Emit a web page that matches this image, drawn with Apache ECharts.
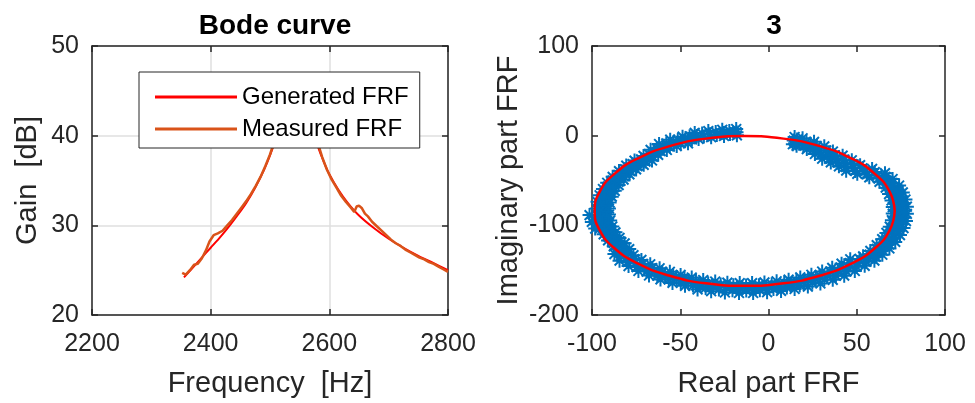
<!DOCTYPE html>
<html><head><meta charset="utf-8">
<script src="https://cdn.jsdelivr.net/npm/echarts@6/dist/echarts.min.js"></script>
<style>html,body{margin:0;padding:0;background:#fff}#c{width:975px;height:403px}</style>
</head><body><div id="c"></div>
<script>
// ---------- Bode curve (left) ----------
const bodeTitle = 'Bode curve';
const bodeXName = 'Frequency  [Hz]';
const bodeYName = 'Gain  [dB]';
const bodeXRange = [2200, 2800, 200];
const bodeYRange = [20, 50, 10];

const genFreq = [2355, 2370, 2385, 2400, 2415, 2430, 2445, 2460, 2475, 2490, 2500, 2510, 2520, 2530, 2545, 2560, 2570, 2580, 2590, 2600, 2615, 2630, 2650, 2675, 2700, 2725, 2750, 2775, 2800];
const genGain = [24.2, 25.3, 26.4, 27.5, 28.6, 29.8, 31.1, 32.5, 34.2, 36.2, 37.8, 39.7, 42.0, 44.0, 45.5, 44.5, 42.5, 39.0, 37.2, 35.7, 34.0, 32.6, 31.1, 29.7, 28.5, 27.5, 26.6, 25.8, 25.0];

const measFreq = [2352, 2358, 2365, 2372, 2378, 2385, 2392, 2398, 2405, 2412, 2420, 2428, 2436, 2444, 2452, 2460, 2468, 2476, 2484, 2492, 2500, 2508, 2516, 2524, 2532, 2540, 2548, 2556, 2564, 2572, 2580, 2588, 2596, 2604, 2612, 2620, 2628, 2636, 2642, 2646, 2650, 2655, 2660, 2665, 2672, 2680, 2688, 2696, 2704, 2712, 2720, 2728, 2736, 2744, 2752, 2760, 2768, 2776, 2784, 2792, 2800];
const measGain = [24.7, 24.5, 25.0, 25.6, 25.7, 26.3, 27.2, 28.2, 28.9, 29.1, 29.4, 30.0, 30.6, 31.3, 32.0, 32.7, 33.5, 34.4, 35.4, 36.6, 37.9, 39.5, 41.3, 43.2, 44.8, 45.8, 46.0, 45.3, 43.8, 41.6, 39.3, 37.6, 36.2, 35.1, 34.2, 33.3, 32.6, 32.0, 31.5, 32.1, 32.2, 31.9, 31.3, 31.0, 30.4, 29.9, 29.4, 28.9, 28.4, 28.0, 27.7, 27.3, 27.0, 26.7, 26.4, 26.2, 25.9, 25.7, 25.4, 25.1, 24.8];

// ---------- Nyquist (right) ----------
const nyqTitle = '3';
const nyqXName = 'Real part FRF';
const nyqYName = 'Imaginary part FRF';
const nyqXRange = [-100, 100, 50];
const nyqYRange = [-200, 100, 100];

const nyqMeasRe = [
 -17.9,-18.1,-18.3, -25.2,-25.7,-26.2, -32.5,-33.3,-34.1, -39.6,-40.7,-41.8,
 -45.6,-47.1,-48.7, -52.0,-53.8,-55.7, -57.6,-59.8,-62.0, -62.5,-64.6,-66.8,
 -66.0,-68.4,-70.8, -70.7,-73.3,-75.9, -75.0,-77.8,-80.6, -78.8,-81.8,-84.7,
 -82.1,-85.2,-88.3, -84.9,-88.1,-91.4, -87.1,-90.5,-93.8, -88.8,-92.2,-95.7,
 -90.0,-93.4,-96.9, -90.4,-93.9,-97.4, -90.4,-93.9,-97.4,-101.4, -89.7,-93.2,-96.7,-100.1,
 -88.5,-91.9,-95.3,-98.2, -86.7,-90.1,-93.4, -84.4,-87.6,-90.9, -81.5,-84.6,-87.7,
 -78.9,-83.1,-87.3, -76.5,-80.5,-84.4, -72.0,-75.6,-79.3, -67.0,-70.4,-73.7,
 -61.7,-64.7,-67.7, -55.9,-58.6,-61.2, -49.8,-52.1,-54.4, -43.5,-45.4,-47.3,
 -37.0,-38.6,-40.2, -30.2,-31.4,-32.5, -23.3,-24.0,-24.7, -16.3,-16.5,-16.7,
 -9.3,-9.0,-8.7, -2.3,-1.5,-0.8, 4.6,5.9,7.1, 11.4,13.1,14.8,
 18.0,20.1,22.3, 24.3,26.8,29.4, 30.4,33.4,36.4, 36.1,39.5,42.9,
 41.4,45.2,48.9, 46.3,50.4,54.5, 53.6,56.8,60.0, 57.7,61.1,64.5,
 61.3,64.9,68.5, 64.4,68.1,71.8, 66.8,70.6,74.5, 68.7,72.6,76.5,
 69.9,73.9,77.9, 70.4,74.4,78.4, 70.4,74.4,78.4, 69.7,73.6,77.6,
 68.3,72.2,76.1, 66.4,70.2,74.0, 62.9,66.6,70.3, 57.1,61.6,66.0,
 50.3,54.5,58.7, 44.0,48.0,51.9, 39.9,43.5,47.2, 35.3,38.7,42.0,
 30.4,33.5,36.5, 26.3,28.9,31.6, 21.7,23.7,25.8, 15.9,17.6,19.3,
 13.8,14.3,14.8
];
const nyqMeasIm = [
 0.4,3.9,7.4, -0.3,3.1,6.6, -1.7,1.7,5.1, -3.6,-0.3,3.0,
 -8.5,-4.8,-1.1, -11.6,-8.1,-4.5, -16.0,-12.7,-9.3, -21.4,-18.6,-15.8,
 -27.7,-25.2,-22.6, -32.5,-30.1,-27.8, -37.6,-35.5,-33.4, -43.2,-41.3,-39.5,
 -49.0,-47.5,-45.9, -55.1,-53.8,-52.5, -61.5,-60.5,-59.5, -68.0,-67.3,-66.5,
 -74.6,-74.2,-73.8, -81.3,-81.2,-81.1, -88.0,-88.2,-88.4,-88.6, -94.7,-95.2,-95.7,-96.2,
 -101.3,-102.1,-102.9,-103.6, -107.8,-108.9,-110.0, -114.1,-115.5,-116.8, -120.1,-121.8,-123.4,
 -126.5,-129.2,-132.0, -133.3,-136.4,-139.4, -138.6,-142.0,-145.4, -143.4,-147.2,-150.9,
 -147.9,-151.9,-155.9, -151.8,-156.1,-160.3, -155.3,-159.7,-164.2, -158.2,-162.8,-167.4,
 -161.0,-166.2,-171.5, -162.7,-168.1,-173.5, -163.9,-169.4,-174.9, -164.4,-169.9,-175.4,
 -164.4,-169.9,-175.4, -163.7,-169.1,-174.6, -162.4,-167.8,-173.1, -160.6,-165.8,-171.0,
 -158.1,-163.2,-168.3, -155.1,-159.9,-164.8, -151.5,-156.2,-160.8, -147.4,-151.8,-156.1,
 -142.8,-146.9,-150.9, -137.9,-141.5,-145.2, -134.6,-137.0,-139.4, -128.5,-130.6,-132.8,
 -122.1,-124.0,-125.8, -115.5,-117.0,-118.5, -108.5,-109.7,-110.9, -101.5,-102.3,-103.1,
 -94.2,-94.7,-95.2, -86.9,-87.1,-87.2, -79.6,-79.4,-79.2, -72.3,-71.8,-71.2,
 -65.1,-64.2,-63.3, -58.0,-56.8,-55.6, -51.5,-50.0,-48.4, -46.5,-44.1,-41.8,
 -42.6,-39.9,-37.1, -39.0,-36.0,-32.9, -34.2,-30.8,-27.4, -29.8,-26.0,-22.3,
 -25.7,-21.7,-17.7, -20.4,-16.2,-11.9, -15.0,-10.9,-6.9, -11.2,-7.1,-2.9,
 -9.5,-5.5,-1.5
];
// second pass of measured points (between the ones above)
const nyqMeasRe2 = [
 -21.8,-22.2, -29.3,-29.9, -36.6,-37.6, -43.4,-44.7, -49.7,-51.4, -55.9,-57.9, -61.1,-63.3, -65.5,-67.7,
 -69.7,-72.2, -74.3,-77.0, -78.4,-81.3, -82.0,-85.1, -85.1,-88.3, -87.7,-91.0, -89.7,-93.1, -91.1,-94.6,
 -92.0,-95.4, -92.2,-95.7, -91.8,-95.3, -90.8,-94.3, -89.3,-92.7, -87.2,-90.5, -84.5,-87.7, -82.3,-86.0,
 -79.7,-83.8, -76.1,-79.9, -71.2,-74.7, -65.9,-69.1, -60.2,-63.0, -54.0,-56.5, -47.6,-49.7, -41.1,-42.8,
 -34.2,-35.6, -27.1,-28.1, -19.9,-20.4, -12.7,-12.6, -5.4,-4.9, 1.8,2.8, 8.9,10.4, 15.8,17.7,
 22.4,24.8, 28.9,31.6, 35.0,38.2, 40.7,44.2, 45.9,49.9, 51.6,55.2, 57.4,60.7, 61.3,64.8,
 64.7,68.4, 67.5,71.3, 69.7,73.6, 71.3,75.3, 72.2,76.2, 72.4,76.4, 72.0,76.0, 71.0,74.9,
 69.3,73.1, 66.5,70.3, 62.3,66.3, 55.8,60.2, 49.2,53.2, 43.8,47.6, 39.3,42.8, 34.4,37.6,
 29.7,32.6, 25.0,27.4, 19.7,21.5, 15.1,16.2
];
const nyqMeasIm2 = [
 1.8,5.3, 0.7,4.1, -1.0,2.4, -4.2,-0.7, -8.3,-4.7, -12.2,-8.7, -17.3,-14.3, -23.3,-20.6,
 -28.9,-26.5, -34.0,-31.8, -39.5,-37.5, -45.4,-43.6, -51.4,-50.0, -57.8,-56.7, -64.4,-63.5, -71.1,-70.6,
 -77.9,-77.7, -84.8,-84.8, -91.6,-92.0, -98.4,-99.1, -105.1,-106.1, -111.7,-112.9, -118.0,-119.5, -124.7,-126.9,
 -131.5,-134.3, -137.7,-140.9, -142.9,-146.5, -147.7,-151.6, -152.0,-156.1, -155.8,-160.2, -159.1,-163.6, -162.2,-167.2,
 -164.6,-169.9, -166.1,-171.5, -166.9,-172.4, -167.2,-172.7, -166.8,-172.3, -165.8,-171.1, -164.1,-169.4, -161.9,-167.1,
 -159.0,-164.0, -155.7,-160.4, -151.7,-156.2, -147.2,-151.4, -142.2,-146.1, -137.5,-140.5, -132.6,-134.9, -126.3,-128.2,
 -119.6,-121.3, -112.6,-114.0, -105.4,-106.4, -98.1,-98.8, -90.7,-91.0, -83.2,-83.2, -75.7,-75.3, -68.3,-67.6,
 -61.0,-59.9, -54.0,-52.6, -47.8,-45.9, -43.2,-40.6, -39.3,-36.4, -34.9,-31.7, -30.1,-26.6, -25.8,-21.9,
 -21.0,-16.8, -15.7,-11.6, -11.1,-6.9, -8.4,-4.3
];

const nyqGenRe = [71.5, 68.6, 60.1, 46.6, 29.0, 8.5, -13.5, -35.5, -56.0, -73.6, -87.1, -95.6, -98.5, -95.6, -87.1, -73.6, -56.0, -35.5, -13.5, 8.5, 29.0, 46.6, 60.1, 68.6, 71.5];
const nyqGenIm = [-84.0, -62.4, -42.3, -25.0, -11.7, -3.3, -0.5, -3.3, -11.7, -25.0, -42.3, -62.4, -84.0, -105.6, -125.8, -143.0, -156.3, -164.7, -167.5, -164.7, -156.3, -143.0, -125.8, -105.6, -84.0];

// ---------- chart ----------
const FONT = "'Liberation Sans', Arial, Helvetica, sans-serif";
const AXC = '#262626';
const zip = (a, b) => a.map((v, i) => [v, b[i]]);
const plain = v => String(v);

function xAx(grid, pos, r, main, name, split) {
  return {
    type: 'value', gridIndex: grid, position: pos, min: r[0], max: r[1], interval: r[2],
    axisLine: { show: true, onZero: false, lineStyle: { color: AXC, width: 1.5 } },
    axisTick: { show: true, inside: true, length: 6, lineStyle: { color: AXC, width: 1.5 } },
    axisLabel: { show: main, fontSize: 25, color: AXC, fontFamily: FONT, margin: 17, formatter: plain },
    splitLine: { show: split, lineStyle: { color: '#DFDFDF', width: 1.5 } },
    name: main ? name : '', nameLocation: 'middle', nameGap: 54,
    nameTextStyle: { fontSize: 29, color: AXC, fontFamily: FONT }
  };
}
function yAx(grid, pos, r, main, name, split, gap) {
  return {
    type: 'value', gridIndex: grid, position: pos, min: r[0], max: r[1], interval: r[2],
    axisLine: { show: true, onZero: false, lineStyle: { color: AXC, width: 1.5 } },
    axisTick: { show: true, inside: true, length: 6, lineStyle: { color: AXC, width: 1.5 } },
    axisLabel: { show: main, fontSize: 25, color: AXC, fontFamily: FONT, margin: 13, formatter: plain },
    splitLine: { show: split, lineStyle: { color: '#DFDFDF', width: 1.5 } },
    name: main ? name : '', nameLocation: 'middle', nameGap: gap,
    nameTextStyle: { fontSize: 29, color: AXC, fontFamily: FONT }
  };
}

const chart = echarts.init(document.getElementById('c'), null, { renderer: 'canvas' });
chart.setOption({
  animation: false,
  backgroundColor: '#ffffff',
  title: [
    { text: bodeTitle, left: 270, top: 7, textAlign: 'center',
      textStyle: { fontSize: 28, fontWeight: 'bold', color: '#000', fontFamily: FONT } },
    { text: nyqTitle, left: 769, top: 7, textAlign: 'center',
      textStyle: { fontSize: 28, fontWeight: 'bold', color: '#000', fontFamily: FONT } }
  ],
  legend: {
    data: ['Generated FRF', 'Measured FRF'],
    orient: 'vertical', left: 139, top: 72,
    backgroundColor: '#ffffff', borderColor: AXC, borderWidth: 1,
    padding: [11, 11, 5, 16], itemGap: 4,
    itemWidth: 82, itemHeight: 3, icon: 'rect',
    textStyle: { fontSize: 24, color: '#000', fontFamily: FONT, lineHeight: 28 },
    selectedMode: false, z: 10
  },
  grid: [
    { left: 92, right: 527, top: 46, bottom: 88 },
    { left: 592, right: 30, top: 46, bottom: 88 }
  ],
  xAxis: [
    xAx(0, 'bottom', bodeXRange, true, bodeXName, true),
    xAx(0, 'top', bodeXRange, false, '', false),
    xAx(1, 'bottom', nyqXRange, true, nyqXName, false),
    xAx(1, 'top', nyqXRange, false, '', false)
  ],
  yAxis: [
    yAx(0, 'left', bodeYRange, true, bodeYName, true, 50),
    yAx(0, 'right', bodeYRange, false, '', false, 0),
    yAx(1, 'left', nyqYRange, true, nyqYName, false, 69),
    yAx(1, 'right', nyqYRange, false, '', false, 0)
  ],
  series: [
    { name: 'Generated FRF', type: 'line', xAxisIndex: 0, yAxisIndex: 0,
      data: zip(genFreq, genGain), smooth: 0.3, symbol: 'none',
      itemStyle: { color: '#FF0000' }, lineStyle: { color: '#FF0000', width: 2 }, z: 2 },
    { name: 'Measured FRF', type: 'line', xAxisIndex: 0, yAxisIndex: 0,
      data: zip(measFreq, measGain), symbol: 'none',
      itemStyle: { color: '#D95319' }, lineStyle: { color: '#D95319', width: 2.5 }, z: 3 },
    { name: 'nyq measured', type: 'scatter', xAxisIndex: 2, yAxisIndex: 2,
      data: zip(nyqMeasRe, nyqMeasIm).concat(zip(nyqMeasRe2, nyqMeasIm2)), clip: false,
      symbol: 'path://M5,0L5,10M0,5L10,5M1.5,1.5L8.5,8.5M1.5,8.5L8.5,1.5', symbolSize: 14,
      itemStyle: { color: 'rgba(0,0,0,0)', borderColor: '#0072BD', borderWidth: 2, opacity: 1 }, z: 2 },
    { name: 'nyq generated', type: 'line', xAxisIndex: 2, yAxisIndex: 2,
      data: zip(nyqGenRe, nyqGenIm), smooth: true, symbol: 'none',
      lineStyle: { color: '#FF0000', width: 2.5 }, z: 3 }
  ]
});
</script></body></html>
